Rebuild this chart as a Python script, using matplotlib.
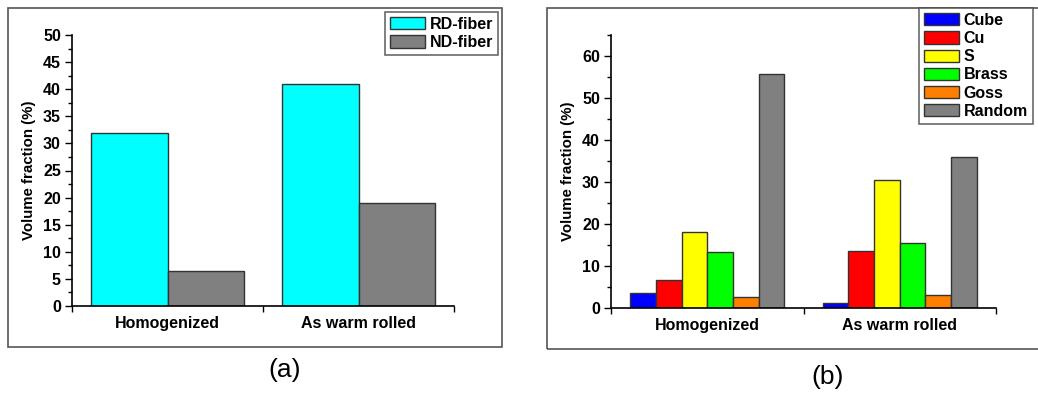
import matplotlib
matplotlib.use("Agg")
import matplotlib.pyplot as plt
import numpy as np
from matplotlib.patches import Rectangle
from matplotlib.ticker import MultipleLocator

plt.rcParams['font.family'] = ['Liberation Sans', 'DejaVu Sans']

# ---- data ----
categories = ["Homogenized", "As warm rolled"]

fiber_names = ["RD-fiber", "ND-fiber"]
rd_fiber = [32.0, 41.0]
nd_fiber = [6.5, 19.0]
fiber_colors = ["#00FFFF", "#808080"]

comp_names = ["Cube", "Cu", "S", "Brass", "Goss", "Random"]
cube = [3.5, 1.2]
cu = [6.6, 13.5]
s_comp = [18.2, 30.5]
brass = [13.3, 15.4]
goss = [2.6, 3.0]
random_comp = [55.7, 36.0]
comp_colors = ["#0000FF", "#FF0000", "#FFFF00", "#00FF00", "#FF8000", "#808080"]

W, H = 1038, 395
fig = plt.figure(figsize=(W / 100, H / 100), dpi=100)

def fx(px):
    return px / W

def fy(py):
    return 1 - py / H

# outer frames
fig.patches.append(Rectangle((fx(8), fy(347)), fx(502) - fx(8), fy(8) - fy(347),
                             transform=fig.transFigure, fill=False, edgecolor="#555555", lw=1.2))
fig.patches.append(Rectangle((fx(547), fy(349)), 0.6, fy(8) - fy(349),
                             transform=fig.transFigure, fill=False, edgecolor="#555555", lw=1.2))

FS = 11.5

def style_axes(ax, ymax, major, minor):
    ax.spines['top'].set_visible(False)
    ax.spines['right'].set_visible(False)
    ax.spines['left'].set_linewidth(1.2)
    ax.spines['bottom'].set_linewidth(1.2)
    ax.set_xlim(-0.5, 1.5)
    ax.set_ylim(0, ymax)
    ax.yaxis.set_major_locator(MultipleLocator(major))
    ax.yaxis.set_minor_locator(MultipleLocator(minor))
    ax.set_xticks([0, 1])
    ax.set_xticklabels(categories, fontsize=FS, fontweight='bold')
    ax.set_xticks([-0.5, 0.5, 1.5], minor=True)
    ax.tick_params(axis='x', which='major', length=0, pad=7)
    ax.tick_params(axis='x', which='minor', direction='out', length=4, width=1)
    ax.tick_params(axis='y', which='major', direction='out', length=5, width=1, pad=3, labelsize=FS)
    ax.tick_params(axis='y', which='minor', direction='out', length=3, width=1)
    for lab in ax.get_yticklabels():
        lab.set_fontweight('bold')
    ax.set_ylabel("Volume fraction (%)", fontsize=10.8, fontweight='bold')
    ax.yaxis.set_label_coords(-0.094, 0.5)

x = np.arange(len(categories))
leg_kw = dict(prop=dict(size=FS, weight='bold'), frameon=True, fancybox=False,
              edgecolor="#444444", handlelength=2.2, handleheight=0.8,
              labelspacing=0.2, handletextpad=0.3, borderaxespad=0)

# ---- panel (a) ----
axa = fig.add_axes([fx(72), fy(306), fx(454) - fx(72), fy(35) - fy(306)])
bw = 0.4
ha = []
for i, (vals, col, name) in enumerate(zip([rd_fiber, nd_fiber], fiber_colors, fiber_names)):
    h = axa.bar(x + (i - 0.5) * bw, vals, width=bw, color=col, edgecolor="#333333",
                linewidth=1, label=name)
    ha.append(h)
style_axes(axa, 50, 5, 2.5)

leg_a = fig.legend(handles=ha, loc='upper right', bbox_to_anchor=(fx(498), fy(12)),
                   borderpad=0.3, **leg_kw)
leg_a.get_frame().set_linewidth(1.2)

# ---- panel (b) ----
axb = fig.add_axes([fx(611), fy(308), fx(996) - fx(611), fy(35) - fy(308)])
comp_vals = [cube, cu, s_comp, brass, goss, random_comp]
n = len(comp_vals)
bwb = 0.8 / n
hb = []
for i, (vals, col, name) in enumerate(zip(comp_vals, comp_colors, comp_names)):
    h = axb.bar(x - 0.4 + (i + 0.5) * bwb, vals, width=bwb, color=col, edgecolor="#333333",
                linewidth=1, label=name)
    hb.append(h)
style_axes(axb, 65, 10, 5)

leg_b = fig.legend(handles=hb, loc='upper left', bbox_to_anchor=(fx(919), fy(8)),
                   borderpad=0.3, **leg_kw)
leg_b.get_frame().set_linewidth(1.2)

# captions
fig.text(fx(285), fy(370), "(a)", fontsize=19, ha='center', va='center')
fig.text(fx(828), fy(377), "(b)", fontsize=19, ha='center', va='center')

fig.savefig("out.png", dpi=100)
